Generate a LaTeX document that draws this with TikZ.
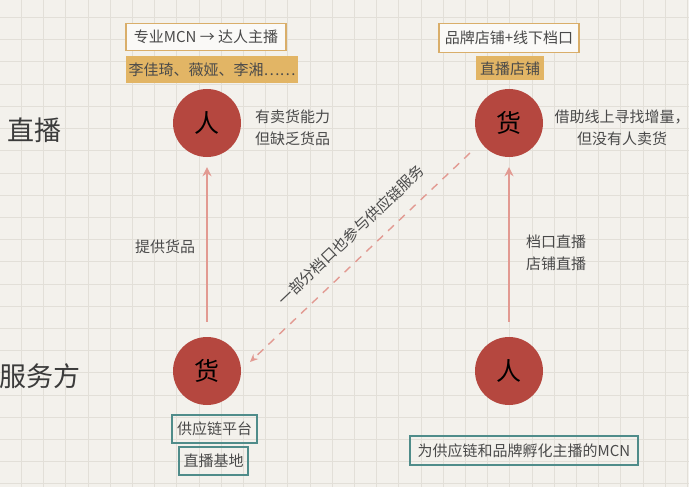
\documentclass[tikz,border=0pt]{standalone}
\usepackage{fontspec}
\setmainfont{Noto Sans CJK SC}
\newfontfamily\cjk{Noto Sans CJK SC}
\newfontfamily\song{Noto Sans CJK SC}
\definecolor{bgc}{HTML}{F3F1EC}
\definecolor{gridc}{HTML}{E2DFD8}
\definecolor{circc}{HTML}{B5473F}
\definecolor{tanline}{HTML}{D9AE6A}
\definecolor{tanfill}{HTML}{E2B565}
\definecolor{tealc}{HTML}{4F8C8A}
\definecolor{txtc}{HTML}{4A4A4A}
\definecolor{arrc}{HTML}{E29A92}
\usetikzlibrary{arrows.meta}
\tikzset{
  circ/.style={circle, fill=circc, minimum size=68pt, inner sep=0pt, font=\song\fontsize{25}{28}\selectfont, text=black},
  tanbox/.style={draw=tanline, line width=1.8pt, fill=white!60!bgc, inner sep=0pt, font=\cjk\fontsize{15}{18}\selectfont, text=txtc},
  tanfilled/.style={fill=tanfill, inner sep=0pt, font=\cjk\fontsize{15}{18}\selectfont, text=txtc},
  tealbox/.style={draw=tealc, line width=1.8pt, inner sep=0pt, font=\cjk\fontsize{15}{18}\selectfont, text=txtc},
  note/.style={font=\cjk\fontsize{15}{22}\selectfont, text=txtc, align=center, inner sep=0pt},
  rowlab/.style={font=\song\fontsize{27}{30}\selectfont, text=txtc!80!black, inner sep=0pt},
  uparrow/.style={draw=arrc, line width=2.4pt, -{Stealth[length=9pt,width=9pt]}},
  dasharrow/.style={draw=arrc, line width=1.4pt, dash pattern=on 8pt off 7pt, -{Stealth[length=8pt,width=7pt]}}
}
\begin{document}
\begin{tikzpicture}[x=1pt,y=-1pt]
\fill[bgc] (0,0) rectangle (689,487);
\useasboundingbox (0,0) rectangle (689,487);
\foreach \i in {0,...,30} \draw[gridc, line width=0.6pt] ({21.3+22.2*\i},0) -- ({21.3+22.2*\i},487);
\foreach \j in {0,...,22} \draw[gridc, line width=0.6pt] (0,{17.4+22.2*\j}) -- (689,{17.4+22.2*\j});

% row labels
\node[rowlab] (r1) at (35,130) {直播};
\node[rowlab] (r2) at (40,376) {服务方};

% circles
\node[circ] (p1) at (207,123) {人};
\node[circ] (g1) at (509,123) {货};
\node[circ] (g2) at (207,371) {货};
\node[circ] (p2) at (509,371) {人};

% top boxes
\node[tanbox, minimum width=160pt, minimum height=27pt] (b1) at (206,37) {专业MCN → 达人主播};
\node[tanfilled, minimum width=172pt, minimum height=27pt] (b2) at (212,69.5) {李佳琦、薇娅、李湘……};
\node[tanbox, minimum width=140pt, minimum height=29pt] (b3) at (509,38) {品牌店铺+线下档口};
\node[tanfilled, minimum width=68pt, minimum height=24pt] (b4) at (510,68.5) {直播店铺};

% bottom boxes
\node[tealbox, minimum width=85pt, minimum height=28pt] (b5) at (214.5,429) {供应链平台};
\node[tealbox, minimum width=69pt, minimum height=28pt] (b6) at (213.5,461) {直播基地};
\node[tealbox, minimum width=228pt, minimum height=29pt] (b7) at (524,450.5) {为供应链和品牌孵化主播的MCN};

% notes
\node[note] (n1) at (292.5,128) {有卖货能力\\但缺乏货品};
\node[note] (n2) at (622,128) {借助线上寻找增量，\\但没有人卖货};
\node[note] (n3) at (165,247) {提供货品};
\node[note, align=left] (n4) at (556,252.5) {档口直播\\店铺直播};

% arrows
\draw[uparrow, shorten <=15pt, shorten >=10pt] (g2) -- (p1);
\draw[uparrow, shorten <=15pt, shorten >=10pt] (p2) -- (g1);
\coordinate (dA) at (470,153);
\coordinate (dB) at (250,362);
\draw[dasharrow] (dA) -- (dB);
\node[note, rotate=43.5] (dl) at (351,235) {一部分档口也参与供应链服务};
\end{tikzpicture}
\end{document}
